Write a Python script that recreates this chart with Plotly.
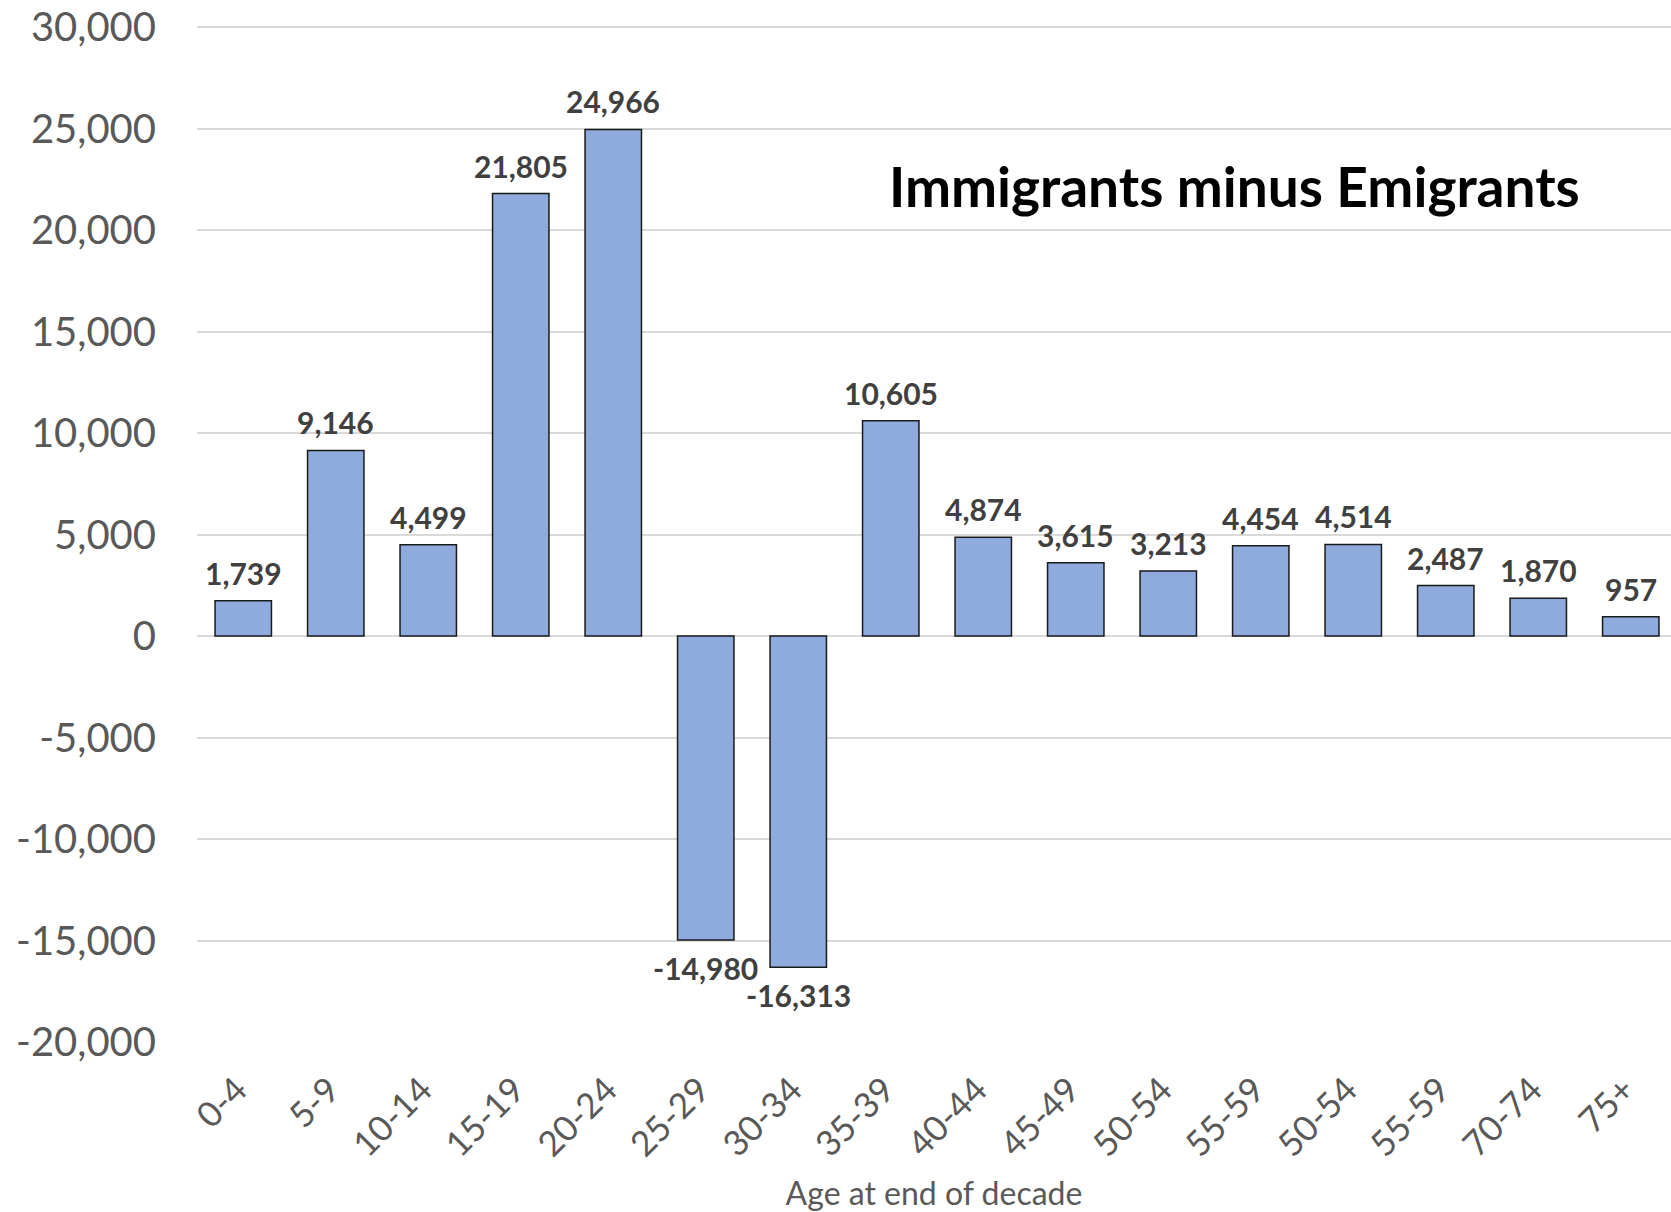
import plotly.graph_objects as go

categories = ["0-4", "5-9", "10-14", "15-19", "20-24", "25-29", "30-34", "35-39",
              "40-44", "45-49", "50-54", "55-59", "50-54", "55-59", "70-74", "75+"]
values = [1739, 9146, 4499, 21805, 24966, -14980, -16313, 10605,
          4874, 3615, 3213, 4454, 4514, 2487, 1870, 957]
y_ticks = [-20000, -15000, -10000, -5000, 0, 5000, 10000, 15000, 20000, 25000, 30000]
title_text = "Immigrants minus Emigrants"
x_title = "Age at end of decade"

x = list(range(len(categories)))
FONT = "Lato, 'Open Sans', sans-serif"

fig = go.Figure()
fig.add_trace(go.Bar(
    x=x, y=values,
    marker=dict(color="#8FAADC", line=dict(color="#1a1a1a", width=1.5)),
    cliponaxis=False,
    hoverinfo="skip",
))

for xi, v in zip(x, values):
    fig.add_annotation(
        x=xi, y=v, xref="x", yref="y",
        text=f"<b>{v:,}</b>", showarrow=False,
        font=dict(family=FONT, size=30, color="#404040"),
        xanchor="center",
        yanchor="bottom" if v >= 0 else "top",
        yshift=8 if v >= 0 else -8,
    )

fig.add_annotation(
    x=0.704, xref="paper", y=22170, yref="y",
    text=f"<b>{title_text}</b>", showarrow=False,
    font=dict(family=FONT, size=55, color="#000000"),
    xanchor="center", yanchor="middle",
)

fig.update_layout(
    width=1671, height=1212,
    margin=dict(l=197, r=0, t=26, b=170),
    paper_bgcolor="white", plot_bgcolor="white",
    bargap=0.39,
    showlegend=False,
    font=dict(family=FONT, color="#595959"),
)
fig.update_xaxes(
    range=[-0.5, 15.435],
    automargin=False,
    tickmode="array", tickvals=x, ticktext=[c + "\u00a0" for c in categories],
    tickangle=-45,
    tickfont=dict(family=FONT, size=35, color="#595959"),
    showgrid=False, zeroline=False, showline=False, ticks="",
    ticklabelstandoff=13,
    title=dict(text=x_title, font=dict(family=FONT, size=32, color="#595959"), standoff=24),
)
fig.update_yaxes(
    range=[-20000, 30060],
    automargin=False,
    tickmode="array", tickvals=y_ticks,
    ticktext=[f"{v:,}" for v in y_ticks],
    tickfont=dict(family=FONT, size=40, color="#595959"),
    showgrid=True, gridcolor="#D9D9D9", gridwidth=1.5,
    zeroline=True, zerolinecolor="#D9D9D9", zerolinewidth=1.5,
    showline=False, ticks="",
    ticklabelstandoff=40,
)

fig.write_html("out.html", config={"displayModeBar": False},
               post_script="document.body.style.margin='0';document.body.style.overflow='hidden';")
